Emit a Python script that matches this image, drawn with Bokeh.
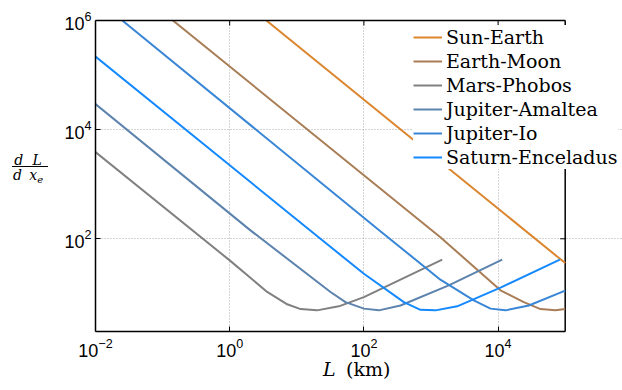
import numpy as np
from bokeh.plotting import figure
from bokeh.models import Range1d, FixedTicker, LogAxis, Div
from bokeh.layouts import row, column
from bokeh.embed import file_html
from bokeh.resources import INLINE

# ---- data ----
series_names = ["Sun-Earth", "Earth-Moon", "Mars-Phobos",
                "Jupiter-Amaltea", "Jupiter-Io", "Saturn-Enceladus"]

sun_L = [3.52, 1e5]
sun_v = [1e6, 35.9]

moon_L = [0.1426, 1380, 10860, 24150, 42850, 71600, 1e5]
moon_v = [1e6, 107, 11.35, 6.9, 5.15, 4.88, 5.15]

mars_L = [1e-2, 1.0, 3.62, 7.2, 11.4, 20.0, 42.3, 100, 1470]
mars_v = [3870, 40.2, 10.6, 6.3, 5.15, 4.88, 5.78, 8.55, 41.4]

amaltea_L = [1e-2, 2.04, 31.8, 53.2, 100, 167, 351, 1840, 11500]
amaltea_v = [29500, 142.6, 10.6, 6.9, 5.25, 4.88, 6.0, 14.0, 41.4]

io_L = [0.0251, 167, 1380, 4345, 7710, 12900, 28700, 1e5]
io_v = [1e6, 145, 17.8, 7.45, 5.25, 4.88, 6.0, 11.2]

enceladus_L = [1e-2, 22.5, 100, 394, 697, 1167, 2455, 10860, 83200]
enceladus_v = [218800, 100, 22.9, 6.9, 5.0, 4.88, 5.78, 12.7, 41.4]

series_L = [sun_L, moon_L, mars_L, amaltea_L, io_L, enceladus_L]
series_v = [sun_v, moon_v, mars_v, amaltea_v, io_v, enceladus_v]
colors = ["#DB862E", "#A97D55", "#808080", "#5C83AD", "#3A86D6", "#1489FF"]

x_ticks = [1e-2, 1, 1e2, 1e4]
y_ticks = [1e2, 1e4, 1e6]
x_min, x_max = 1e-2, 1e5
y_min, y_max = 2, 1e6
x_view_end = 10 ** 5.854   # empty room right of the axes box, used by the legend

# ---- figure ----
p = figure(width=572, height=360, x_axis_type="log", y_axis_type="log",
           x_range=Range1d(x_min, x_view_end), y_range=Range1d(y_min, y_max),
           output_backend="svg", toolbar_location=None,
           min_border_left=45, min_border_right=0,
           min_border_top=20, min_border_bottom=29)
p.background_fill_color = "white"
p.border_fill_color = "white"
p.outline_line_color = None

# right edge of the axes box, with inward ticks on right and top edges
p.segment(x0=[x_max], y0=[y_min], x1=[x_max], y1=[y_max],
          line_color="black", line_width=1.5)
p.ray(x=[x_max] * len(y_ticks), y=y_ticks, length=5, length_units="screen",
      angle=np.pi, line_color="black", line_width=1)
p.ray(x=x_ticks[1:], y=[y_max] * (len(x_ticks) - 1), length=5,
      length_units="screen", angle=-np.pi / 2, line_color="black", line_width=1)

for L, v, c, n in zip(series_L, series_v, colors, series_names):
    p.line(L, v, line_color=c, line_width=2, legend_label=n)

xax = p.below[0]
yax = p.left[0]
xax.ticker = FixedTicker(ticks=x_ticks)
yax.ticker = FixedTicker(ticks=y_ticks)
xax.bounds = (x_min, x_max)

top = LogAxis(ticker=FixedTicker(ticks=[]), bounds=(x_min, x_max))
p.add_layout(top, "above")

for ax in (xax, yax, top):
    ax.axis_line_color = "black"
    ax.axis_line_width = 1.5
    ax.major_tick_in = 5
    ax.major_tick_out = 0
    ax.major_tick_line_color = "black"
    ax.major_tick_line_width = 1
    ax.minor_tick_line_color = None
    ax.major_label_text_font = "Liberation Sans"
    ax.major_label_text_font_size = "18px"
    ax.major_label_text_color = "black"

xax.major_label_standoff = 6
yax.major_label_standoff = 4
top.major_label_standoff = 0

p.xgrid.ticker = FixedTicker(ticks=x_ticks)
p.ygrid.ticker = FixedTicker(ticks=y_ticks)
p.ygrid.bounds = (x_min, x_max)
p.xgrid.grid_line_color = "#a8a8a8"
p.ygrid.grid_line_color = "#a8a8a8"
p.xgrid.grid_line_dash = "1 2"
p.ygrid.grid_line_dash = "1 2"

# legend
lg = p.legend[0]
lg.location = (318, 162)
lg.label_text_font = "DejaVu Serif"
lg.label_text_font_size = "19px"
lg.label_text_color = "black"
lg.glyph_width = 29
lg.glyph_height = 24
lg.label_height = 24
lg.label_standoff = 4
lg.spacing = 0
lg.padding = 2
lg.margin = 0
lg.border_line_color = None
lg.background_fill_color = "white"
lg.background_fill_alpha = 1.0

# ---- axis labels (real text) ----
ylab_html = (
    '<div style="position:relative;width:50px;height:360px;'
    'font-family:\'DejaVu Serif\';font-style:italic;font-size:14px;color:black">'
    '<div style="position:absolute;left:10px;top:153px;width:36px;text-align:center;'
    'line-height:14px;word-spacing:5px;white-space:nowrap">d L</div>'
    '<div style="position:absolute;left:12px;top:166px;width:36px;height:0;'
    'border-top:1.5px solid black"></div>'
    '<div style="position:absolute;left:10px;top:168px;width:36px;text-align:center;'
    'line-height:14px;word-spacing:3px;white-space:nowrap">d x<span '
    'style="font-size:10px;position:relative;top:3px">e</span></div>'
    '</div>'
)
xlab_html = (
    '<div style="position:relative;width:622px;height:30px;'
    'font-family:\'DejaVu Serif\';font-size:19px;color:black">'
    '<span style="position:absolute;left:323px;top:0px;line-height:19px;'
    'font-style:italic">L</span>'
    '<span style="position:absolute;left:346px;top:0px;line-height:19px;'
    'white-space:nowrap">(km)</span>'
    '</div>'
)
ylab = Div(text=ylab_html, width=50, height=360, margin=0)
xlab = Div(text=xlab_html, width=622, height=30, margin=0)

layout = column(row(ylab, p, spacing=0), xlab, spacing=0)

open("out.html", "w").write(file_html(layout, INLINE))
